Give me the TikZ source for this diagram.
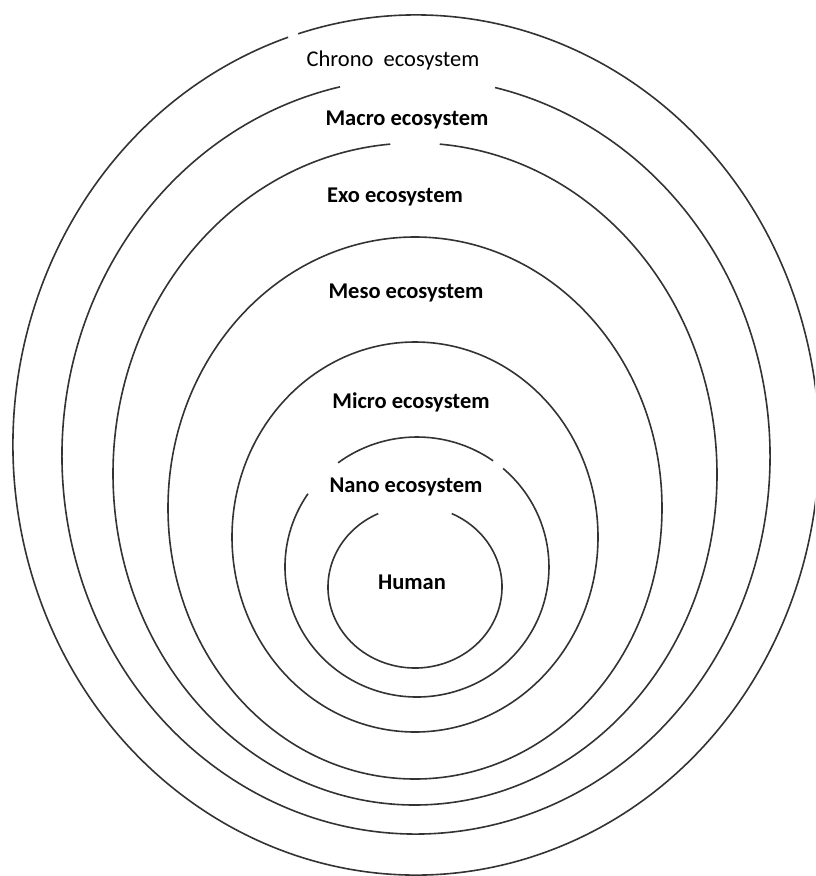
\documentclass[tikz,border=0pt]{standalone}
\usepackage{fontspec}
\setmainfont{Carlito}

\begin{document}
\begin{tikzpicture}[x=1pt, y=1pt, line width=1.6pt, color=black!80,
  lab/.style={font=\fontsize{22.5}{26}\selectfont\bfseries, inner sep=0pt, text=black},
  labthin/.style={lab, font=\fontsize{22.5}{26}\selectfont}]
\useasboundingbox (0,0) rectangle (815,-876);
\clip (0,0) rectangle (815,-876);
% rings, outer to inner (gaps as in the sketch)
\draw ([shift={(108.5:403 and 430)}]416,-445) arc[start angle=108.5, end angle=467, x radius=403, y radius=430];
\draw ([shift={(102.4:354 and 378)}]416,-456) arc[start angle=102.4, end angle=437.1, x radius=354, y radius=378];
\draw ([shift={(94.7:302 and 331)}]415,-474) arc[start angle=94.7, end angle=445.3, x radius=302, y radius=331];
\draw (415,-508) ellipse (247 and 271);
\draw (415,-537) ellipse (183 and 195);
\draw ([shift={(54.8:132 and 130)}]417,-567) arc[start angle=54.8, end angle=126.7, x radius=132, y radius=130];
\draw ([shift={(145.7:132 and 130)}]417,-567) arc[start angle=145.7, end angle=409.3, x radius=132, y radius=130];
\draw ([shift={(115:87 and 81)}]415,-587) arc[start angle=115, end angle=425, x radius=87, y radius=81];
%
\node[labthin] (chrono) at (393,-60) {Chrono\ \ ecosystem};
\node[lab] (macro) at (407,-120) {Macro ecosystem};
\node[lab] (exo) at (395,-197) {Exo ecosystem};
\node[lab] (meso) at (406,-293) {Meso ecosystem};
\node[lab] (micro) at (411,-402) {Micro ecosystem};
\node[lab] (nano) at (406,-487) {Nano ecosystem};
\node[lab] (human) at (412,-582) {Human};
\end{tikzpicture}
\end{document}
